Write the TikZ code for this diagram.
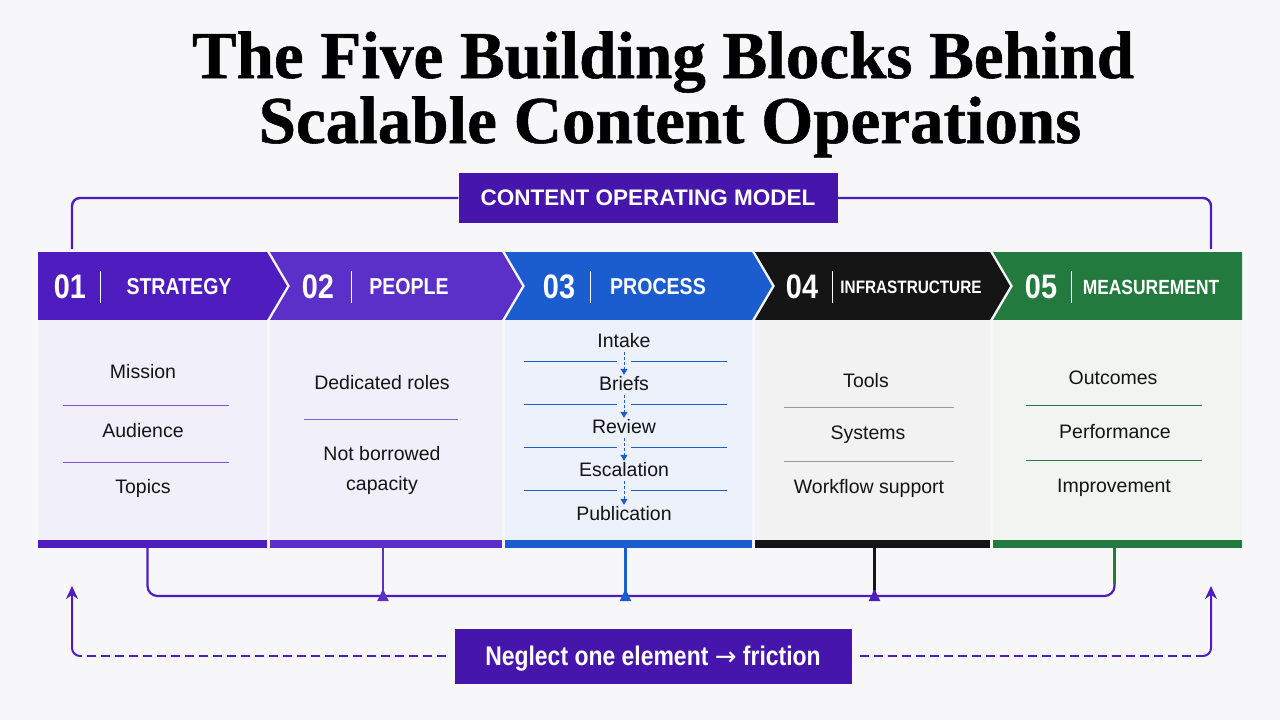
\documentclass[tikz,border=0pt]{standalone}
\usepackage{fontspec}
\setmainfont{Liberation Sans}
\newfontfamily\titlefont[FakeBold=0.8]{Liberation Serif}
\newfontfamily\condfont[FakeStretch=0.85]{Liberation Sans}
\newfontfamily\arrowfont{DejaVu Sans}
\usetikzlibrary{arrows.meta,positioning,calc}
\definecolor{figBg}{HTML}{F7F7F9}
\definecolor{figPurple}{HTML}{4F1DBF}
\definecolor{figViolet}{HTML}{5A30C8}
\definecolor{figBlue}{HTML}{1B5CCF}
\definecolor{figBlack}{HTML}{151515}
\definecolor{figGreen}{HTML}{237A3F}
\definecolor{figDeep}{HTML}{4515AC}
\definecolor{figInk}{HTML}{141414}
\definecolor{tintPurple}{HTML}{F1EFFA}
\definecolor{tintBlue}{HTML}{ECF1FB}
\definecolor{tintGray}{HTML}{F2F2F2}
\definecolor{tintGreen}{HTML}{F1F4F1}

\begin{document}
\begin{tikzpicture}[
  x=1pt, y=-1pt,
  title/.style={font=\titlefont\bfseries\fontsize{67}{70}\selectfont, text=black, anchor=base},
  banner/.style={fill=figDeep, text=white, inner sep=0pt, font=\bfseries\fontsize{22.5}{26}\selectfont},
  num/.style={text=white, inner sep=1pt, font=\condfont\bfseries\fontsize{34}{36}\selectfont},
  head/.style={text=white, inner sep=1pt, font=\condfont\bfseries\fontsize{23}{26}\selectfont},
  item/.style={text=figInk, inner sep=1pt, text height=14pt, text depth=4pt, align=center, font=\fontsize{19.5}{30}\selectfont},
  bar/.style={minimum height=8pt, inner sep=0pt, outer sep=0pt},
  divider/.style={line width=1pt},
  frame/.style={line width=2.4pt, figPurple, rounded corners=8pt},
  bus/.style={line width=2.2pt, figPurple, rounded corners=10pt},
  riser/.style={line width=2.2pt, -{Triangle[reversed, length=12pt, width=11pt]}, shorten >=-5pt},
  flow/.style={line width=1pt, figBlue, dashed, dash pattern=on 3pt off 2pt, -{Triangle[length=6pt, width=7pt]}},
  dashloop/.style={line width=2pt, figPurple, dash pattern=on 9pt off 5pt},
  loopup/.style={line width=2pt, figPurple, rounded corners=8pt, -{Stealth[length=13pt, width=12pt]}}
]
\useasboundingbox (0,0) rectangle (1280,720);
\fill[figBg] (0,0) rectangle (1280,720);

% Title
\node[title] (t1) at (663,78) {The Five Building Blocks Behind};
\node[title] (t2) at (670,143) {Scalable Content Operations};

% Top banner
\node[banner, minimum width=379pt, minimum height=50pt] (com) at (648,198) {CONTENT OPERATING MODEL};
\coordinate (topL) at (72,249);
\coordinate (topR) at (1211,249);
\draw[frame] (com.west) -| (topL);
\draw[frame] (com.east) -| (topR);

% Chevron headers, panels and bottom bars
\foreach \i/\xl/\xr/\nl/\pr/\col/\tint in {1/38/267/0/20/figPurple/tintPurple, 2/270/502/20/20/figViolet/tintPurple, 3/505/752/20/20/figBlue/tintBlue, 4/755/990/20/20/figBlack/tintGray, 5/993/1242/20/0/figGreen/tintGreen} {
  \fill[\col] (\xl,252) -- (\xr,252) -- (\xr+\pr,286) -- (\xr,320) -- (\xl,320) -- (\xl+\nl,286) -- cycle;
  \fill[\tint] (\xl,320) rectangle (\xr,540);
  \node[bar, fill=\col, minimum width={\xr-\xl}] (bar\i) at ({(\xl+\xr)/2},544) {};
}

% Header labels
\foreach \i/\nx/\sx/\lx/\lab in {1/70/100/179/STRATEGY, 2/318/351/409/PEOPLE, 3/559/590/658/PROCESS, 4/802/832/911/{\fontsize{18}{20}\selectfont INFRASTRUCTURE}, 5/1041/1071/1151/{\fontsize{20.5}{22}\selectfont MEASUREMENT}} {
  \node[num] (n\i) at (\nx,287) {0\i};
  \draw[white, line width=1pt] (\sx,271) -- (\sx,303);
  \node[head] (h\i) at (\lx,287) {\lab};
}

% 01 Strategy
\node[item] (s1) at (143,373) {Mission};
\draw[divider, figPurple!75] (63,405) -- (229,405);
\node[item] (s2) at (143,432) {Audience};
\draw[divider, figPurple!75] (63,462) -- (229,462);
\node[item] (s3) at (143,488) {Topics};

% 02 People
\node[item] (pe1) at (382,384) {Dedicated roles};
\draw[divider, figViolet!75] (304,419) -- (458,419);
\node[item, text height=36pt] (pe2) at (382,474) {Not borrowed\\capacity};

% 03 Process
\node[item] (p1) at (624,342) {Intake};
\node[item] (p2) at (624,385) {Briefs};
\node[item] (p3) at (624,428) {Review};
\node[item] (p4) at (624,471) {Escalation};
\node[item] (p5) at (624,515) {Publication};
\foreach \y in {361,404,447,490} {
  \draw[divider, figBlue] (524,\y) -- (617,\y);
  \draw[divider, figBlue] (631,\y) -- (727,\y);
}
\foreach \a/\b in {p1/p2, p2/p3, p3/p4, p4/p5}
  \draw[flow] (\a.south) -- (\b.north);

% 04 Infrastructure
\node[item] (i1) at (866,382) {Tools};
\draw[divider, black!40] (784,407) -- (954,407);
\node[item] (i2) at (868,434) {Systems};
\draw[divider, black!40] (784,461) -- (954,461);
\node[item] (i3) at (869,488) {Workflow support};

% 05 Measurement
\node[item] (m1) at (1113,379) {Outcomes};
\draw[divider, figGreen] (1026,405) -- (1202,405);
\node[item] (m2) at (1115,433) {Performance};
\draw[divider, figGreen] (1026,460) -- (1202,460);
\node[item] (m3) at (1114,487) {Improvement};

% Bottom bus
\coordinate (busline) at (640,596);
\coordinate (tapL) at ([xshift=-5pt]bar1.south);
\coordinate (tapR) at ([xshift=-3pt]bar5.south);
\draw[bus] (tapL) |- (busline) -| (tapR);
\draw[line width=2.2pt, figGreen] (tapR) -- ([yshift=12pt]tapR |- busline);
\draw[riser, figViolet] ([xshift=-3pt]bar2.south) -- ([xshift=-3pt]bar2.south |- busline);
\draw[riser, figBlue] ([xshift=-3pt]bar3.south) -- ([xshift=-3pt]bar3.south |- busline);
\draw[riser, figPurple] ([xshift=2pt]bar4.south) -- ([xshift=2pt]bar4.south |- busline);
\draw[line width=2.2pt, figBlack] ([xshift=2pt]bar4.south) -- ([xshift=2pt,yshift=6pt]bar4.south |- busline);

% Feedback loop
\node[banner, minimum width=397pt, minimum height=55pt, text height=20pt, text depth=2pt, font=\condfont\bfseries\fontsize{27}{30}\selectfont] (neg) at (653,656) {Neglect one element {\arrowfont\mdseries\fontsize{26}{28}\selectfont →} friction};
\coordinate (loopL) at (72,586);
\coordinate (loopR) at (1211,586);
\draw[dashloop] ([xshift=-8pt]neg.west) -- ([xshift=8pt]loopL |- neg.west);
\draw[loopup] ([xshift=8pt]loopL |- neg.west) -| (loopL);
\draw[dashloop] ([xshift=8pt]neg.east) -- ([xshift=-8pt]loopR |- neg.east);
\draw[loopup] ([xshift=-8pt]loopR |- neg.east) -| (loopR);
\end{tikzpicture}
\end{document}
